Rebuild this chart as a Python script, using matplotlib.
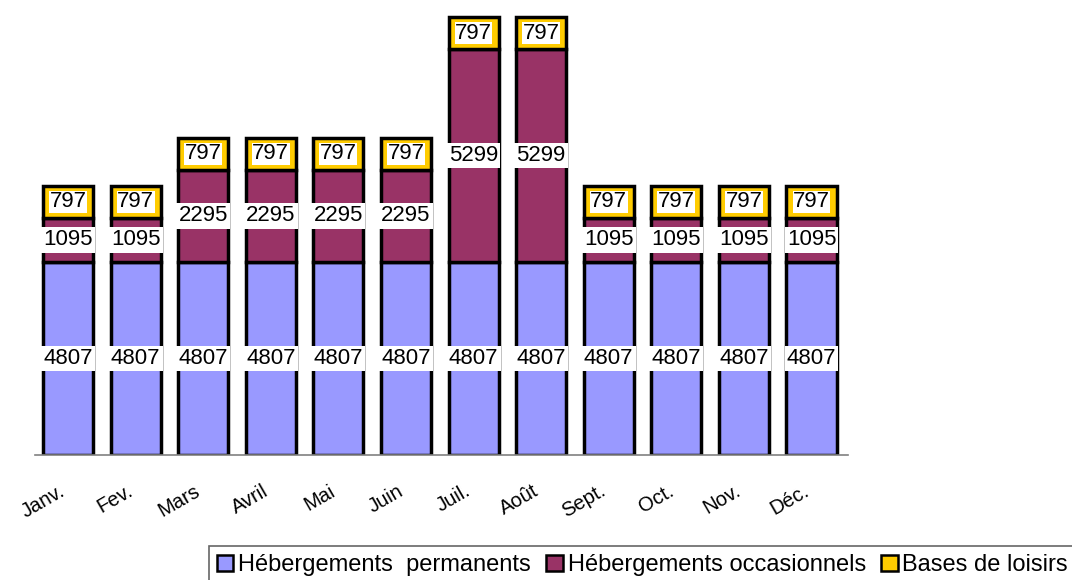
import numpy as np
import matplotlib.pyplot as plt
import matplotlib.transforms as mtransforms
from matplotlib.patches import Patch

plt.rcParams['font.family'] = ['Liberation Sans', 'DejaVu Sans']

# données
mois = ["Janv.", "Fev.", "Mars", "Avril", "Mai", "Juin", "Juil.", "Août",
        "Sept.", "Oct.", "Nov.", "Déc."]
permanents = [4807] * 12
occasionnels = [1095, 1095, 2295, 2295, 2295, 2295, 5299, 5299, 1095, 1095, 1095, 1095]
loisirs = [797] * 12

series = [
    ("Hébergements  permanents", permanents, "#9999FF"),
    ("Hébergements occasionnels", occasionnels, "#993366"),
    ("Bases de loisirs", loisirs, "#FFCC00"),
]

fig = plt.figure(figsize=(10.72, 5.8), dpi=100)
ax = fig.add_axes([35 / 1072, 1 - 455 / 580, (848 - 35) / 1072, 455 / 580])

x = np.arange(len(mois))
bottom = np.zeros(len(mois))
for i, (name, vals, col) in enumerate(series):
    vals = np.array(vals)
    ax.bar(x, vals, bottom=bottom, width=0.74, color=col, edgecolor="black",
           linewidth=2.5, zorder=2)
    pad = 0.02 if i == 2 else 0.1
    for xi, b, v in zip(x, bottom, vals):
        ax.text(xi, b + v / 2, str(v), ha="center", va="center", fontsize=16,
                zorder=3,
                bbox=dict(boxstyle=f"square,pad={pad}", facecolor="white",
                          edgecolor="none"))
    bottom = bottom + vals

ax.set_xlim(-0.488, 11.54)
ax.set_ylim(0, 11330)
ax.set_yticks([])
ax.set_xticks(x)
ax.set_xticklabels(mois, rotation=30, ha="right", va="top",
                   rotation_mode="anchor", fontsize=14.5)
ax.tick_params(axis="x", length=0, pad=19)
shift = mtransforms.ScaledTranslation(-0.09, 0, fig.dpi_scale_trans)
for lab in ax.get_xticklabels():
    lab.set_transform(lab.get_transform() + shift)
for s in ["top", "right", "left"]:
    ax.spines[s].set_visible(False)
ax.spines["bottom"].set_color("#808080")
ax.spines["bottom"].set_linewidth(1.2)

handles = [Patch(facecolor=c, edgecolor="black", linewidth=1.8, label=n)
           for n, v, c in series]
leg = fig.legend(handles=handles, loc="upper right",
                 bbox_to_anchor=(1.004, 1 - 546 / 580),
                 ncol=3, frameon=True, fancybox=False, fontsize=17,
                 handlelength=0.7, handleheight=0.7, handletextpad=0.2,
                 columnspacing=0.65, borderpad=0.35, borderaxespad=0)
leg.get_frame().set_edgecolor("#404040")
leg.get_frame().set_linewidth(1.2)

fig.savefig("out.png", dpi=100)
